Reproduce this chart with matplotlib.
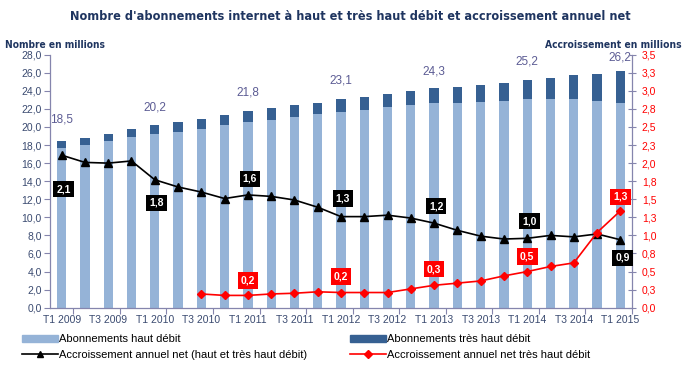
import matplotlib
matplotlib.use("Agg")
import matplotlib.pyplot as plt
from matplotlib.lines import Line2D
from matplotlib.patches import Patch
import numpy as np

# ---------------- data ----------------
quarters = ["T1 2009", "T2 2009", "T3 2009", "T4 2009",
            "T1 2010", "T2 2010", "T3 2010", "T4 2010",
            "T1 2011", "T2 2011", "T3 2011", "T4 2011",
            "T1 2012", "T2 2012", "T3 2012", "T4 2012",
            "T1 2013", "T2 2013", "T3 2013", "T4 2013",
            "T1 2014", "T2 2014", "T3 2014", "T4 2014",
            "T1 2015"]
haut_debit = [17.7, 18.0, 18.4, 18.9, 19.2, 19.5, 19.8, 20.2, 20.6, 20.8,
              21.1, 21.4, 21.7, 21.9, 22.2, 22.4, 22.6, 22.7, 22.8, 22.9,
              23.1, 23.1, 23.1, 22.9, 22.7]
tres_haut_debit = [0.8, 0.8, 0.8, 0.9, 1.0, 1.1, 1.1, 1.1, 1.2, 1.3,
                   1.3, 1.3, 1.4, 1.4, 1.5, 1.6, 1.7, 1.7, 1.9, 2.0,
                   2.1, 2.3, 2.6, 3.0, 3.5]
accr_total = [2.11, 2.01, 2.00, 2.03, 1.77, 1.67, 1.60, 1.51, 1.56, 1.54,
              1.49, 1.39, 1.26, 1.26, 1.28, 1.24, 1.17, 1.07, 0.99, 0.95,
              0.96, 1.00, 0.98, 1.02, 0.94]
accr_thd = [None, None, None, None, None, None, 0.19, 0.17, 0.17, 0.19,
            0.20, 0.22, 0.21, 0.21, 0.21, 0.26, 0.31, 0.34, 0.37, 0.44,
            0.50, 0.57, 0.62, 1.04, 1.34]
total_labels_idx = [0, 4, 8, 12, 16, 20, 24]
total_labels = ["18,5", "20,2", "21,8", "23,1", "24,3", "25,2", "26,2"]
accr_total_labels = ["2,1", "1,8", "1,6", "1,3", "1,2", "1,0", "0,9"]
accr_thd_labels_idx = [8, 12, 16, 20, 24]
accr_thd_labels = ["0,2", "0,2", "0,3", "0,5", "1,3"]
left_ticks = np.arange(0, 28.01, 2)
left_tick_labels = ["0,0", "2,0", "4,0", "6,0", "8,0", "10,0", "12,0", "14,0",
                    "16,0", "18,0", "20,0", "22,0", "24,0", "26,0", "28,0"]
right_ticks = np.arange(0, 3.501, 0.25)
right_tick_labels = ["0,0", "0,3", "0,5", "0,8", "1,0", "1,3", "1,5", "1,8",
                     "2,0", "2,3", "2,5", "2,8", "3,0", "3,3", "3,5"]

# ---------------- style ----------------
plt.rcParams["font.family"] = ["Liberation Sans", "DejaVu Sans"]
narrow = ["Liberation Sans Narrow", "DejaVu Sans"]
c_light = "#95B3D7"
c_dark = "#366092"
c_spine = "#8585ad"
c_left = "#3a4a70"
c_title = "#1f3560"
c_totlab = "#5c5c94"

fig = plt.figure(figsize=(7.0, 3.71), dpi=100)
ax = fig.add_axes([50/700, 1-307.7/371, (632-50)/700, (307.7-54.7)/371])
ax2 = ax.twinx()

x = np.arange(len(quarters))
w = 0.4
ax.bar(x, haut_debit, w, color=c_light, zorder=2)
ax.bar(x, tres_haut_debit, w, bottom=haut_debit, color=c_dark, zorder=2)

totals = [a + b for a, b in zip(haut_debit, tres_haut_debit)]
total_offsets = [21, 18, 18, 18, 17, 18, 13]
for i, lab, off in zip(total_labels_idx, total_labels, total_offsets):
    ax.annotate(lab, (x[i], totals[i]), xytext=(0, off), textcoords="offset pixels",
                ha="center", va="center", fontsize=8.5, color=c_totlab)

ax.set_xlim(-0.5, len(quarters) - 0.5)
ax.set_ylim(0, 28)
ax.set_yticks(left_ticks)
ax.set_yticklabels(left_tick_labels)
ax.tick_params(axis="y", colors=c_spine, labelcolor=c_left, labelsize=7.5,
               length=4, width=0.8, direction="out", pad=2)

ax.set_xticks(np.arange(0.5, len(quarters), 2))
ax.set_xticklabels([])
ax.set_xticks(x[::2], minor=True)
ax.set_xticklabels(quarters[::2], minor=True)
ax.tick_params(axis="x", which="major", colors=c_spine, length=4, width=0.8)
ax.tick_params(axis="x", which="minor", length=0, labelsize=7.5,
               labelcolor=c_left, pad=5)

for s in ["top", "right"]:
    ax.spines[s].set_visible(False)
for s in ["left", "bottom"]:
    ax.spines[s].set_color(c_spine)
    ax.spines[s].set_linewidth(0.9)

xt = [xi for xi, v in zip(x, accr_thd) if v is not None]
yt = [v for v in accr_thd if v is not None]
ax2.plot(x, accr_total, color="black", lw=1.2, marker="^", ms=6, zorder=4)
ax2.plot(xt, yt, color="red", lw=1.2, marker="D", ms=4.5, zorder=4)
ax2.set_ylim(0, 3.5)
ax2.set_yticks(right_ticks)
ax2.set_yticklabels(right_tick_labels)
ax2.tick_params(axis="y", colors=c_spine, labelcolor="red", labelsize=7.5,
                length=6, width=0.8, direction="inout", pad=4)
for s in ["top", "left", "bottom"]:
    ax2.spines[s].set_visible(False)
ax2.spines["right"].set_color(c_spine)
ax2.spines["right"].set_linewidth(0.9)

black_offsets = [-34, -23, 16, 18, 17, 17, -18]
for i, lab, off in zip(total_labels_idx, accr_total_labels, black_offsets):
    ax2.annotate(lab, (x[i], accr_total[i]), xytext=(2, off), textcoords="offset pixels",
                 ha="center", va="center", fontsize=7.5, color="white",
                 fontweight="bold",
                 bbox=dict(boxstyle="square,pad=0.3", fc="black", ec="none"), zorder=6)
red_offsets = [15, 16, 16, 15, 14]
for i, lab, off in zip(accr_thd_labels_idx, accr_thd_labels, red_offsets):
    ax2.annotate(lab, (x[i], accr_thd[i]), xytext=(0, off), textcoords="offset pixels",
                 ha="center", va="center", fontsize=7.5, color="white",
                 fontweight="bold",
                 bbox=dict(boxstyle="square,pad=0.3", fc="red", ec="none"), zorder=6)

# titles (fit to the reference widths)
t_title = fig.text(350/700, 1-16/371,
                   "Nombre d'abonnements internet à haut et très haut débit et accroissement annuel net",
                   ha="center", va="center", fontsize=10.5, fontweight="bold",
                   color=c_title, family=narrow, fontstretch="condensed")
t_left = fig.text(5/700, 1-45/371, "Nombre en millions", ha="left", va="center",
                  fontsize=8.5, fontweight="bold", color=c_title, family=narrow,
                  fontstretch="condensed")
t_right = fig.text(682/700, 1-45/371, "Accroissement en millions", ha="right", va="center",
                   fontsize=8.5, fontweight="bold", color=c_title, family=narrow,
                   fontstretch="condensed")
renderer = fig.canvas.get_renderer()
for t, target in [(t_title, 560), (t_left, 100), (t_right, 136)]:
    wpx = t.get_window_extent(renderer).width
    if wpx > target:
        t.set_fontsize(t.get_fontsize() * target / wpx)

# legends
h1 = [Patch(color=c_light), Line2D([], [], color="black", lw=1.2, marker="^", ms=5)]
l1 = ["Abonnements haut débit", "Accroissement annuel net (haut et très haut débit)"]
h2 = [Patch(color=c_dark), Line2D([], [], color="red", lw=1.2, marker="D", ms=4)]
l2 = ["Abonnements très haut débit", "Accroissement annuel net très haut débit"]
kw = dict(frameon=False, fontsize=8, handlelength=3.2, handleheight=0.6,
          handletextpad=0.15, labelspacing=0.5, borderaxespad=0, borderpad=0)
fig.legend(h1, l1, loc="upper left", bbox_to_anchor=(22/700, 1-334/371), **kw)
fig.legend(h2, l2, loc="upper left", bbox_to_anchor=(350/700, 1-334/371), **kw)

fig.savefig("out.png", dpi=100)
